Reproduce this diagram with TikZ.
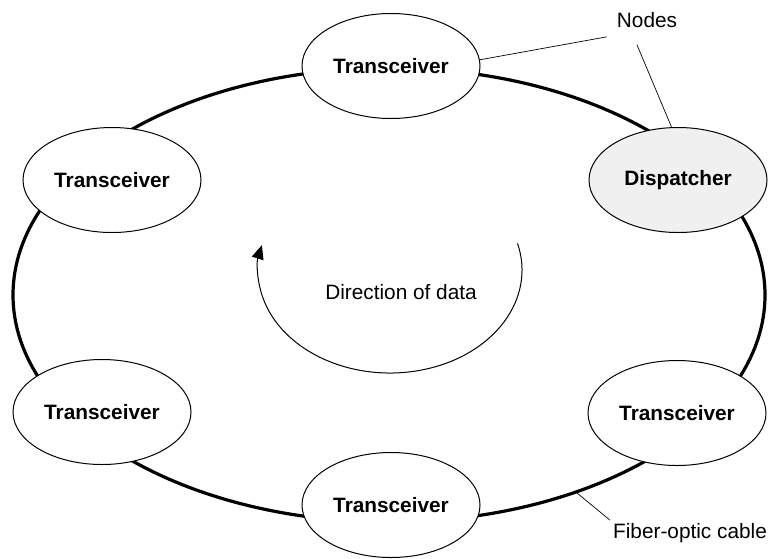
\documentclass[tikz,border=0pt]{standalone}
\usepackage{fontspec}
\setmainfont{Liberation Sans}
\usetikzlibrary{shapes.geometric,arrows.meta}
\begin{document}
\begin{tikzpicture}[x=1pt,y=-1pt]
        \tikzstyle{unit}=[ellipse, draw, fill=white, line width=1pt, minimum width=178pt, minimum height=105pt, inner sep=0pt, font=\fontsize{20.8}{25}\selectfont\bfseries]
        \tikzstyle{lbl}=[inner sep=3pt, font=\fontsize{20.8}{25}\selectfont]
        \tikzstyle{ring}=[line width=3.2pt]
        \tikzstyle{leader}=[line width=0.7pt]

        \useasboundingbox (0,0) rectangle (770,558);

        % fiber ring behind the units
        \draw[ring] (389,295) ellipse [x radius=376, y radius=227];

        \node[unit] (top) at (391,66) {Transceiver};
        \node[unit] (left) at (112,180) {Transceiver};
        \node[unit, fill=black!6] (disp) at (678,180) {Dispatcher};
        \node[unit] (lowleft) at (102,412) {Transceiver};
        \node[unit] (lowright) at (677,413) {Transceiver};
        \node[unit] (bottom) at (391,505) {Transceiver};

        \node[lbl] (dir) at (401,292) {Direction of data};
        \draw[line width=1pt, -{Triangle[length=14pt,width=12pt]}] (390,270) ++(-15:132 and 103)
            arc[start angle=-15, end angle=194, x radius=132, y radius=103];

        \node[lbl] (nodes) at (647,20) {Nodes};
        \draw[leader] ([shift={(-7,6)}]nodes.south west) -- (top.4);
        \draw[leader] ([shift={(-10,14)}]nodes.south) -- (disp.97);

        \coordinate (cablept) at (577,493);
        \node[lbl] (fiber) at (690,533) {Fiber-optic cable};
        \draw[leader] (fiber.north west) -- (cablept);
\end{tikzpicture}
\end{document}
